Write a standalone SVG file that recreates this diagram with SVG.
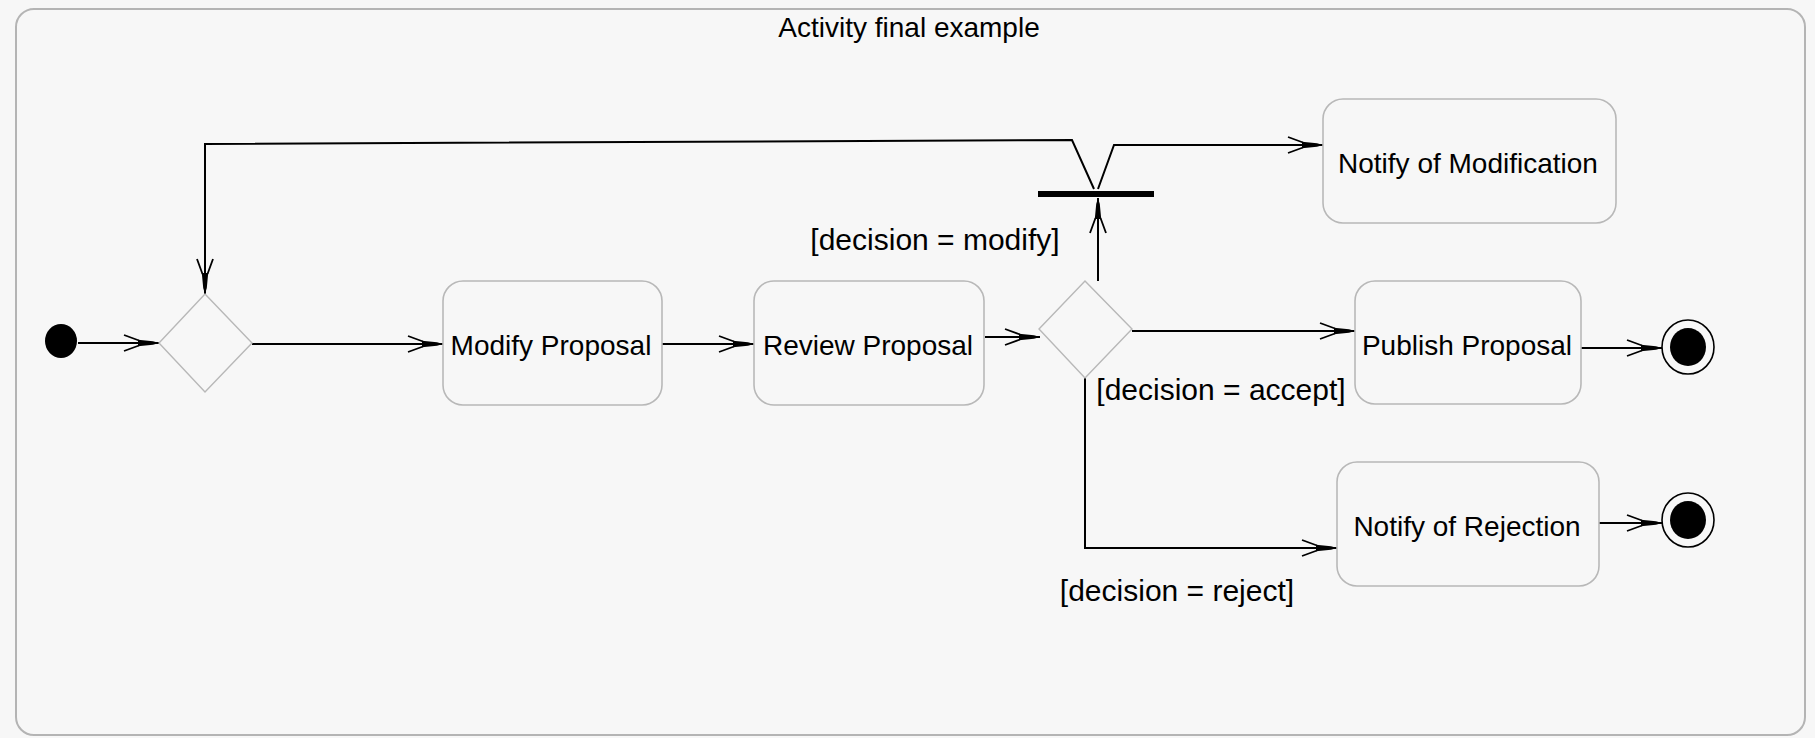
<svg xmlns="http://www.w3.org/2000/svg" width="1815" height="738" viewBox="0 0 1815 738">
<style>
  .frame { fill: #f7f7f7; stroke: #b4b4b4; stroke-width: 2; }
  .action { fill: #f7f7f7; stroke: #b8b8b8; stroke-width: 1.6; }
  .diamond { fill: #f7f7f7; stroke: #b8b8b8; stroke-width: 1.4; }
  .label { font-family: "Liberation Sans", Arial, sans-serif; font-size: 28px; fill: #000; text-anchor: middle; }
  .guard { font-family: "Liberation Sans", Arial, sans-serif; font-size: 30px; fill: #000; text-anchor: middle; }
  .edge { fill: none; stroke: #000; stroke-width: 2; marker-end: url(#arrow); }
</style>
<defs>
  <marker id="arrow" markerUnits="userSpaceOnUse" viewBox="-40 -12 42 24" refX="0" refY="0" markerWidth="42" markerHeight="24" orient="auto" overflow="visible">
    <path d="M-35,-8 L-20,-2.5 M-35,8 L-20,2.5" fill="none" stroke="#000" stroke-width="1.8"/>
    <path d="M-21,-3.2 L-6,-1.8 L0,0 L-6,1.8 L-21,3.2 Z" fill="#000"/>
  </marker>
</defs>
<rect width="1815" height="738" fill="#f7f7f7"/>
<g id="frame">
  <rect class="frame" x="16" y="9" width="1789" height="726" rx="18" ry="18"/>
  <text class="label" x="909" y="37">Activity final example</text>
</g>
<g id="connectors">
  <line class="edge" x1="78" y1="343" x2="159" y2="343"/>
  <line class="edge" x1="252" y1="344" x2="443" y2="344"/>
  <line class="edge" x1="662" y1="344" x2="754" y2="344"/>
  <line class="edge" x1="985" y1="337" x2="1040" y2="337"/>
  <line class="edge" x1="1098" y1="281" x2="1098" y2="198"/>
  <polyline class="edge" points="1094,189 1072,140 205,144 205,294"/>
  <polyline class="edge" points="1098,189 1114,145 1323,145"/>
  <line class="edge" x1="1132" y1="331" x2="1355" y2="331"/>
  <polyline class="edge" points="1085,378 1085,548 1337,548"/>
  <line class="edge" x1="1581" y1="348" x2="1662" y2="348"/>
  <line class="edge" x1="1599" y1="523" x2="1662" y2="523"/>
  <text class="guard" x="935" y="250">[decision = modify]</text>
  <text class="guard" x="1221" y="400">[decision = accept]</text>
  <text class="guard" x="1177" y="601">[decision = reject]</text>
</g>
<g id="initial">
  <ellipse cx="61" cy="341" rx="16" ry="17" fill="#000"/>
</g>
<g id="merge">
  <polygon class="diamond" points="205,294 252,343 205,392 159,343"/>
</g>
<g id="modify-proposal">
  <rect class="action" x="443" y="281" width="219" height="124" rx="20" ry="20"/>
  <text class="label" x="551" y="355">Modify Proposal</text>
</g>
<g id="review-proposal">
  <rect class="action" x="754" y="281" width="230" height="124" rx="20" ry="20"/>
  <text class="label" x="868" y="355">Review Proposal</text>
</g>
<g id="decision">
  <polygon class="diamond" points="1085,281 1132,329 1085,378 1039,329"/>
</g>
<g id="fork-bar">
  <rect x="1038" y="191" width="116" height="6" fill="#000"/>
</g>
<g id="notify-modification">
  <rect class="action" x="1323" y="99" width="293" height="124" rx="20" ry="20"/>
  <text class="label" x="1468" y="173">Notify of Modification</text>
</g>
<g id="publish-proposal">
  <rect class="action" x="1355" y="281" width="226" height="123" rx="20" ry="20"/>
  <text class="label" x="1467" y="355">Publish Proposal</text>
</g>
<g id="notify-rejection">
  <rect class="action" x="1337" y="462" width="262" height="124" rx="20" ry="20"/>
  <text class="label" x="1467" y="536">Notify of Rejection</text>
</g>
<g id="final-publish">
  <ellipse cx="1688" cy="347" rx="26" ry="27" fill="#f7f7f7" stroke="#000" stroke-width="1.6"/>
  <ellipse cx="1688" cy="347" rx="18" ry="19" fill="#000"/>
</g>
<g id="final-rejection">
  <ellipse cx="1688" cy="520" rx="26" ry="27" fill="#f7f7f7" stroke="#000" stroke-width="1.6"/>
  <ellipse cx="1688" cy="520" rx="18" ry="19" fill="#000"/>
</g>
</svg>
